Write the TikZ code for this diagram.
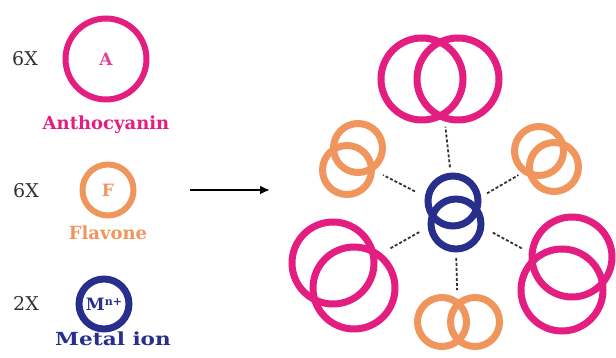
\documentclass[tikz,border=0pt]{standalone}
\usepackage{fontspec}
\setmainfont{DejaVu Serif}
\usetikzlibrary{arrows.meta}
\definecolor{anthopink}{RGB}{228,30,128}
\definecolor{flavorange}{RGB}{240,150,92}
\definecolor{metalblue}{RGB}{40,46,140}
\begin{document}
\begin{tikzpicture}[x=1pt,y=-1pt,
    ring/.style={circle,draw,inner sep=0pt,line width=7pt},
    pinkring/.style={ring,draw=anthopink,minimum size=82pt},
    orangering/.style={ring,draw=flavorange,minimum size=49pt},
    bluering/.style={ring,draw=metalblue,minimum size=50pt},
    multiplier/.style={text=black!80,font=\fontsize{19}{21}\selectfont},
    legendlabel/.style={font=\bfseries\fontsize{18}{20}\selectfont},
    letter/.style={font=\bfseries\fontsize{17}{18}\selectfont},
    bond/.style={line width=1.8pt,dash pattern=on 3pt off 2pt,black!80}]
    \useasboundingbox (0,0) rectangle (616,358);
    % legend
    \node[multiplier] at (25,59) (nA) {6X};
    \node[pinkring,minimum size=81pt,line width=6pt] at (106,59) (A) {};
    \node[letter,text=anthopink!85] at (A) (tA) {A};
    \node[legendlabel,text=anthopink] at (106,125) (lA) {Anthocyanin};
    \node[multiplier] at (26,191) (nF) {6X};
    \node[orangering,minimum size=51pt,line width=6pt] at (108,190) (F) {};
    \node[letter,text=flavorange] at (F) (tF) {F};
    \node[legendlabel,text=flavorange] at (108,233) (lF) {Flavone};
    \node[multiplier] at (26,303) (nM) {2X};
    \node[bluering] at (104,304) (M) {};
    \node[letter,text=metalblue,inner sep=0pt] at (M) (tM) {M\raisebox{5pt}{\fontsize{11}{12}\selectfont n+}};
    \node[legendlabel,text=metalblue] at (113,339) (lM) {\scalebox{1.2}[1]{Metal ion}};
    % arrow
    \coordinate (arrS) at (190,190);
    \coordinate (arrE) at (270,190);
    \draw[line width=2.5pt,-{Latex[length=10pt,width=9pt]}] (arrS) -- (arrE);
    % complex
    \node[pinkring] at (422,79) (top1) {};
    \node[pinkring] at (458,79) (top2) {};
    \node[orangering] at (358,148) (ul1) {};
    \node[orangering] at (347,170) (ul2) {};
    \node[orangering] at (539,151) (ur1) {};
    \node[orangering] at (554,167) (ur2) {};
    \node[bluering] at (453,201) (ion1) {};
    \node[bluering] at (456,224) (ion2) {};
    \node[pinkring] at (333,263) (ll1) {};
    \node[pinkring] at (354,288) (ll2) {};
    \node[pinkring,minimum size=80pt] at (572,257) (lr1) {};
    \node[pinkring] at (562,290) (lr2) {};
    \node[orangering] at (442,322) (bo1) {};
    \node[orangering] at (475,322) (bo2) {};
    % dashed bonds
    \coordinate (hub) at (455,212);
    \coordinate (gT) at (440,79);
    \coordinate (gUL) at (352,159);
    \coordinate (gUR) at (546,159);
    \coordinate (gLL) at (343,275);
    \coordinate (gLR) at (567,273);
    \coordinate (gB) at (458,322);
    \draw[bond,shorten <=45pt,shorten >=48pt] (hub) -- (gT);
    \draw[bond,shorten <=45pt,shorten >=35pt] (hub) -- (gUL);
    \draw[bond,shorten <=37pt,shorten >=32pt] (hub) -- (gUR);
    \draw[bond,shorten <=41pt,shorten >=53pt] (hub) -- (gLL);
    \draw[bond,shorten <=43pt,shorten >=51pt] (hub) -- (gLR);
    \draw[bond,shorten <=46pt,shorten >=32pt] (hub) -- (gB);
\end{tikzpicture}
\end{document}
